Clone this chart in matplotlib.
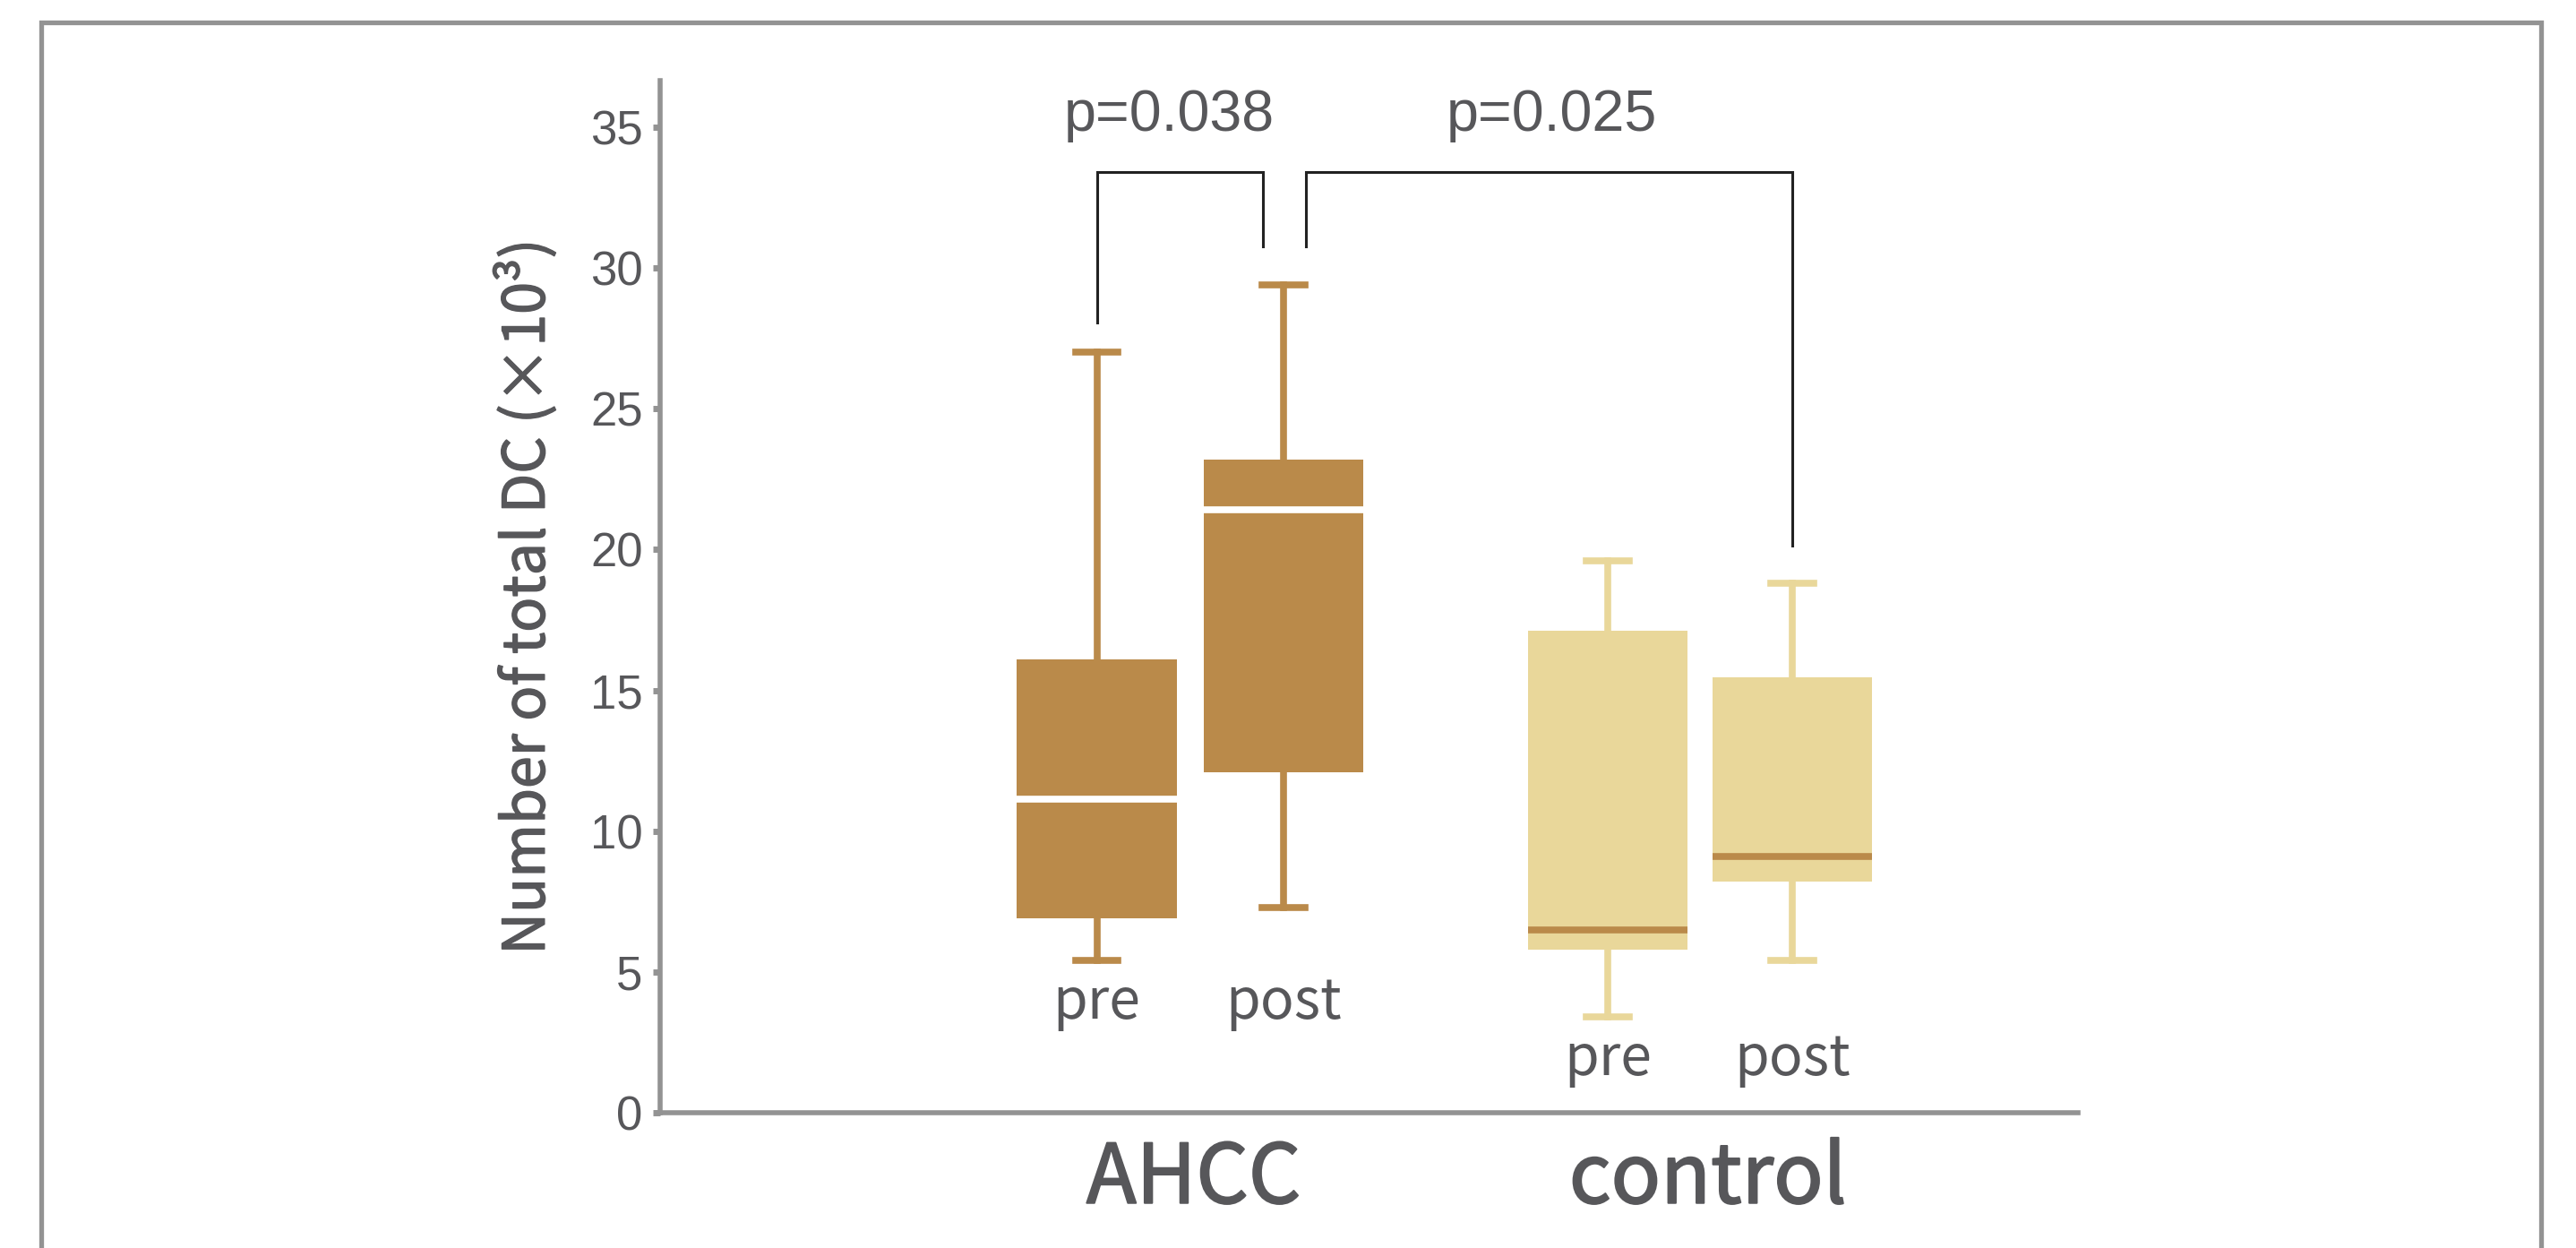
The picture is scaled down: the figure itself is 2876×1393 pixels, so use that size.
import matplotlib
matplotlib.use('Agg')
import matplotlib.pyplot as plt
import matplotlib.patheffects as pe
from matplotlib.patches import Rectangle

# valores (x10^3)
grupos = ['AHCC', 'control']
tempos = ['pre', 'post', 'pre', 'post']
whis_lo = [5.4, 7.3, 3.4, 5.4]
q1 = [6.9, 12.1, 5.8, 8.2]
mediana = [11.15, 21.4, 6.5, 9.1]
q3 = [16.1, 23.2, 17.1, 15.45]
whis_hi = [27.0, 29.4, 19.6, 18.8]
pvals = ['p=0.038', 'p=0.025']

cor_box = ['#BA8A4A', '#BA8A4A', '#E9D79A', '#E9D79A']
cor_med = ['white', 'white', '#BA8A4A', '#BA8A4A']
cinza = '#939393'
texto = '#57575A'
cjk = ['Noto Sans CJK JP', 'DejaVu Sans']
# engrossa um pouco o texto (fonte do original é mais pesada)
grosso = [pe.withStroke(linewidth=1.4, foreground=texto)]

pos = [0, 1, 2.74, 3.73]

fig = plt.figure(figsize=(28.76, 13.93), dpi=100)
ax = fig.add_axes([0.2563, 0.1084, 0.8067 - 0.2563, 0.9354 - 0.1084])

for i in range(4):
    st = [{'med': mediana[i], 'q1': q1[i], 'q3': q3[i],
           'whislo': whis_lo[i], 'whishi': whis_hi[i], 'fliers': []}]
    ax.bxp(st, positions=[pos[i]], widths=0.855, patch_artist=True,
           showfliers=False, capwidths=0.23,
           boxprops=dict(facecolor=cor_box[i], edgecolor='none', linewidth=0),
           whiskerprops=dict(color=cor_box[i], linewidth=5.5),
           capprops=dict(color=cor_box[i], linewidth=5.5),
           medianprops=dict(color=cor_med[i], linewidth=5.5, solid_capstyle='butt'),
           manage_ticks=False, zorder=2)

# rótulos pre / post abaixo dos bigodes
for g in range(2):
    y = min(whis_lo[2*g], whis_lo[2*g+1]) - 1.5
    for k in range(2):
        ax.text(pos[2*g+k], y, tempos[2*g+k], ha='center', va='center',
                fontsize=45, color=texto, family=cjk)

# colchetes de significância
topo = 33.4
ax.plot([pos[0], pos[0], pos[1] - 0.11, pos[1] - 0.11],
        [whis_hi[0] + 1.05, topo, topo, 30.75], color='#222222', lw=2.2, solid_joinstyle='miter')
ax.plot([pos[1] + 0.12, pos[1] + 0.12, pos[3], pos[3]],
        [30.75, topo, topo, whis_hi[3] + 1.35], color='#222222', lw=2.2, solid_joinstyle='miter')
ax.text((pos[0] + pos[1]) / 2 - 0.11, 35.4, pvals[0], ha='center', va='center',
        fontsize=46.5, color=texto, family='Liberation Sans')
ax.text(2.44, 35.4, pvals[1], ha='center', va='center',
        fontsize=46.5, color=texto, family='Liberation Sans')

ax.set_xlim(-2.34, 5.26)
ax.set_ylim(0, 36.65)
ax.set_yticks([0, 5, 10, 15, 20, 25, 30, 35])
ax.set_xticks([(pos[0] + pos[1]) / 2 + 0.02, (pos[2] + pos[3]) / 2 + 0.04])
ax.set_xticklabels(grupos, fontsize=66, color=texto, family=cjk)
for lb in ax.get_xticklabels():
    lb.set_path_effects(grosso)
ax.tick_params(axis='x', length=0, pad=20)
ax.tick_params(axis='y', length=6, width=5, color=cinza, labelsize=38, labelcolor=texto, pad=8)
for lb in ax.get_yticklabels():
    lb.set_family('Liberation Sans')

for s in ['top', 'right']:
    ax.spines[s].set_visible(False)
for s in ['left', 'bottom']:
    ax.spines[s].set_color(cinza)
    ax.spines[s].set_linewidth(4)

ax.set_ylabel('Number of total DC (×10³)', fontsize=46.5, color=texto,
              family=cjk, labelpad=26, path_effects=[pe.withStroke(linewidth=1.0, foreground=texto)])

# moldura cinza em volta da figura
fig.add_artist(Rectangle((0.016, -0.1), 0.9864 - 0.016, 0.982 + 0.1,
                         transform=fig.transFigure, fill=False, edgecolor=cinza,
                         linewidth=3.8, clip_on=False))

fig.savefig('out.png', dpi=100)
